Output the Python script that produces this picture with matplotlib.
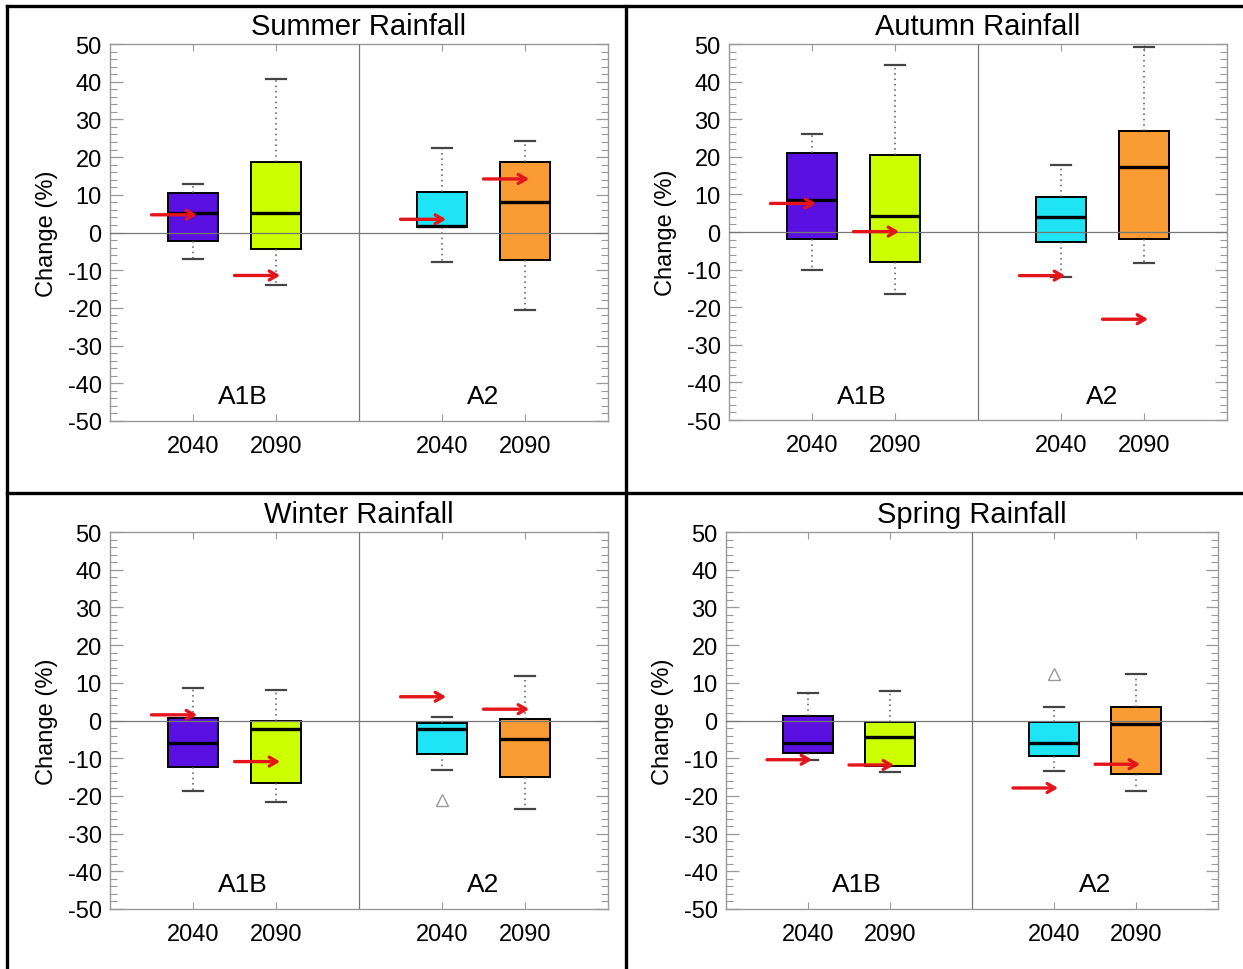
import matplotlib
matplotlib.use("Agg")
import matplotlib.pyplot as plt
from matplotlib.lines import Line2D

plt.rcParams['font.family'] = ['Liberation Sans', 'DejaVu Sans']
plt.rcParams['axes.unicode_minus'] = False

# box positions: A1B 2040/2090 left of the divider, A2 2040/2090 right of it
positions = [1, 2, 4, 5]
year_labels = ['2040', '2090', '2040', '2090']
scenarios = ['A1B', 'A2']
box_colors = ['#5a10e0', '#ccff00', '#1fe4f6', '#fa9c33']

seasons = ['Summer', 'Autumn', 'Winter', 'Spring']

# per season: whisker low, q1, median, q3, whisker high, red arrow value
summer_lo = [-7.1, -13.9, -7.9, -20.5]
summer_q1 = [-2.2, -4.3, 1.5, -7.3]
summer_med = [5.1, 5.1, 1.7, 8.0]
summer_q3 = [10.4, 18.7, 10.7, 18.8]
summer_hi = [12.8, 40.8, 22.3, 24.4]
summer_arrow = [4.7, -11.4, 3.5, 14.2]
summer_out = [[], [], [], []]

autumn_lo = [-10.2, -16.6, -12.0, -8.3]
autumn_q1 = [-1.9, -8.1, -2.6, -1.9]
autumn_med = [8.6, 4.2, 4.0, 17.2]
autumn_q3 = [20.9, 20.4, 9.3, 26.8]
autumn_hi = [26.0, 44.5, 17.7, 49.3]
autumn_arrow = [7.6, 0.1, -11.6, -23.2]
autumn_out = [[], [], [], []]

winter_lo = [-18.7, -21.7, -13.0, -23.6]
winter_q1 = [-12.4, -16.5, -8.9, -15.1]
winter_med = [-6.0, -2.3, -2.3, -5.0]
winter_q3 = [0.7, -0.2, -0.7, 0.5]
winter_hi = [8.6, 8.2, 0.8, 11.7]
winter_arrow = [1.5, -10.9, 6.3, 3.0]
winter_out = [[], [], [-21.0], []]

spring_lo = [-10.6, -13.6, -13.4, -18.8]
spring_q1 = [-8.6, -12.2, -9.3, -14.2]
spring_med = [-6.0, -4.4, -6.0, -1.0]
spring_q3 = [1.1, -0.4, -0.4, 3.6]
spring_hi = [7.2, 7.8, 3.6, 12.4]
spring_arrow = [-10.4, -11.8, -17.9, -11.6]
spring_out = [[], [], [12.3], []]

season_data = {
    'Summer': (summer_lo, summer_q1, summer_med, summer_q3, summer_hi, summer_arrow, summer_out),
    'Autumn': (autumn_lo, autumn_q1, autumn_med, autumn_q3, autumn_hi, autumn_arrow, autumn_out),
    'Winter': (winter_lo, winter_q1, winter_med, winter_q3, winter_hi, winter_arrow, winter_out),
    'Spring': (spring_lo, spring_q1, spring_med, spring_q3, spring_hi, spring_arrow, spring_out),
}

W, H = 1243, 970
# axes boxes in pixels: left, top, right, bottom
axes_px = {
    'Summer': (110, 45, 608, 422),
    'Autumn': (729, 45, 1227, 421),
    'Winter': (110, 533, 608, 910),
    'Spring': (726, 533, 1218, 910),
}

fig = plt.figure(figsize=(W / 100, H / 100), dpi=100)
fig.patch.set_facecolor('white')

frame_gray = '#9a9a9a'

for season in seasons:
    l, t, r, b = axes_px[season]
    ax = fig.add_axes([l / W, 1 - b / H, (r - l) / W, (b - t) / H])
    lo, q1, med, q3, hi, arrow, out = season_data[season]

    stats = []
    for i in range(4):
        stats.append(dict(whislo=lo[i], q1=q1[i], med=med[i], q3=q3[i],
                          whishi=hi[i], fliers=out[i]))

    bp = ax.bxp(stats, positions=positions, widths=0.6, capwidths=0.24,
                patch_artist=True, showfliers=True,
                boxprops=dict(edgecolor='black', linewidth=1.4),
                medianprops=dict(color='black', linewidth=2.4),
                whiskerprops=dict(color='#555555', linewidth=1.1, linestyle=(0, (1, 2.5))),
                capprops=dict(color='#444444', linewidth=1.6),
                flierprops=dict(marker='^', markerfacecolor='none',
                                markeredgecolor='#999999', markersize=8,
                                markeredgewidth=1.0))
    for patch, c in zip(bp['boxes'], box_colors):
        patch.set_facecolor(c)

    # zero line and scenario divider drawn over the boxes
    ax.axhline(0, color='#777777', lw=0.9, zorder=5)
    ax.axvline(3, color='#777777', lw=0.9, zorder=5)

    for x, v in zip(positions, arrow):
        ax.annotate('', xy=(x + 0.05, v), xytext=(x - 0.5, v),
                    arrowprops=dict(arrowstyle='->, head_length=0.55, head_width=0.32',
                                    color='#e3151b', lw=2.4, shrinkA=0, shrinkB=0),
                    zorder=6)

    ax.text(1.6, -43.5, scenarios[0], ha='center', va='center', fontsize=19)
    ax.text(4.5, -43.5, scenarios[1], ha='center', va='center', fontsize=19)

    ax.set_xlim(0, 6)
    ax.set_ylim(-50, 50)
    ax.set_xticks(positions)
    ax.set_xticklabels(year_labels)
    ax.set_yticks(range(-50, 51, 10))
    ax.set_yticks(range(-50, 51, 2), minor=True)

    ax.tick_params(axis='y', which='major', direction='in', length=9, width=0.9,
                   color=frame_gray, left=True, right=True, labelsize=17, pad=6)
    ax.tick_params(axis='y', which='minor', direction='in', length=5, width=0.8,
                   color=frame_gray, left=True, right=True)
    ax.tick_params(axis='x', which='major', direction='in', length=5, width=0.8,
                   color=frame_gray, top=True, bottom=True, labelsize=17, pad=10)
    for sp in ax.spines.values():
        sp.set_color(frame_gray)
        sp.set_linewidth(1.0)

    ax.set_ylabel('Change (%)', fontsize=17)
    ax.yaxis.set_label_coords(-0.105, 0.5)
    ax.set_title(season + ' Rainfall', fontsize=21, pad=7)

# black frame lines separating the four panels
def px_line(x0, y0, x1, y1):
    fig.add_artist(Line2D([x0 / W, x1 / W], [1 - y0 / H, 1 - y1 / H],
                          color='black', lw=2.4, transform=fig.transFigure))

px_line(7, 7, 1243, 7)
px_line(7, 7, 7, 970)
px_line(626, 7, 626, 970)
px_line(7, 494, 1243, 494)

fig.savefig('out.png', dpi=100, facecolor='white')
